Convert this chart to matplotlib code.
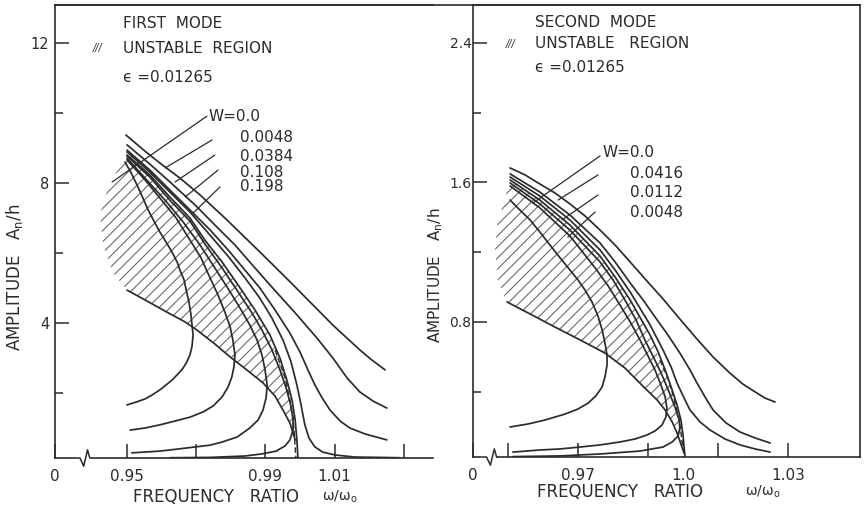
import matplotlib
matplotlib.use("Agg")
import matplotlib.pyplot as plt
from matplotlib.lines import Line2D

plt.rcParams['font.family'] = ['DejaVu Sans']
plt.rcParams['hatch.linewidth'] = 0.8

INK = '#2b2b2b'
HATCH = '#6a6a6a'

# ---------------- FIRST MODE (left panel) ----------------
m1_xlim = (0.92919, 1.03844)
m1_ylim = (0.143, 13.086)
m1_xticks = [0.92919, 0.95, 0.97, 0.99, 1.01, 1.03]
m1_xticklabels = ['0', '0.95', '', '0.99', '1.01', '']
m1_yticks = [4, 8, 12]
m1_yminor = [2, 6, 10]
m1_w_labels = ['W=0.0', '0.0048', '0.0384', '0.108', '0.198']

m1_r1_x = [0.9497, 0.9552, 0.9595, 0.9653, 0.9711, 0.9783, 0.9855, 0.9919, 0.9980, 1.0038, 1.0095, 1.0139, 1.0173, 1.0208, 1.0246]
m1_r1_y = [9.37, 8.91, 8.57, 8.14, 7.66, 7.00, 6.31, 5.69, 5.09, 4.51, 3.94, 3.54, 3.23, 2.94, 2.66]
m1_r2_x = [0.9500, 0.9566, 0.9624, 0.9697, 0.9754, 0.9812, 0.9855, 0.9913, 0.9986, 1.0049, 1.0095, 1.0136, 1.0173, 1.0211, 1.0251]
m1_r2_y = [9.09, 8.54, 8.03, 7.37, 6.80, 6.23, 5.74, 5.09, 4.29, 3.57, 3.00, 2.43, 2.03, 1.77, 1.57]
m1_r3_x = [0.9500, 0.9566, 0.9624, 0.9682, 0.9740, 0.9792, 0.9841, 0.9884, 0.9928, 0.9971, 1.0000, 1.0023, 1.0043, 1.0064, 1.0087, 1.0116, 1.0144, 1.0188, 1.0251]
m1_r3_y = [8.94, 8.37, 7.80, 7.23, 6.66, 6.09, 5.51, 5.00, 4.37, 3.71, 3.17, 2.66, 2.23, 1.86, 1.51, 1.20, 1.00, 0.83, 0.66]
m1_r4_x = [0.9500, 0.9566, 0.9624, 0.9682, 0.9740, 0.9792, 0.9841, 0.9884, 0.9919, 0.9951, 0.9974, 0.9991, 1.0003, 1.0014, 1.0026, 1.0043, 1.0066, 1.0101, 1.0159, 1.0231, 1.0289]
m1_r4_y = [8.89, 8.31, 7.74, 7.17, 6.51, 5.91, 5.29, 4.71, 4.14, 3.51, 2.89, 2.23, 1.66, 1.09, 0.71, 0.46, 0.31, 0.23, 0.17, 0.16, 0.15]
m1_b0_x = [0.9500, 0.9566, 0.9624, 0.9682, 0.9725, 0.9775, 0.9827, 0.9870, 0.9913, 0.9942, 0.9962, 0.9977, 0.9986, 0.9991, 0.9994]
m1_b0_y = [8.80, 8.23, 7.60, 7.00, 6.37, 5.74, 5.00, 4.37, 3.66, 3.00, 2.37, 1.80, 1.23, 0.66, 0.14]
m1_c4_x = [0.9500, 0.9566, 0.9624, 0.9682, 0.9725, 0.9775, 0.9827, 0.9861, 0.9890, 0.9919, 0.9942, 0.9960, 0.9971, 0.9980, 0.9980, 0.9971, 0.9957, 0.9931, 0.9890, 0.9841, 0.9740, 0.9624]
m1_c4_y = [8.77, 8.17, 7.51, 6.91, 6.26, 5.57, 4.80, 4.29, 3.80, 3.23, 2.66, 2.14, 1.74, 1.29, 0.94, 0.66, 0.49, 0.34, 0.26, 0.20, 0.16, 0.15]
m1_c3_x = [0.9500, 0.9552, 0.9610, 0.9662, 0.9711, 0.9754, 0.9798, 0.9830, 0.9855, 0.9876, 0.9890, 0.9899, 0.9905, 0.9902, 0.9893, 0.9879, 0.9855, 0.9818, 0.9775, 0.9740, 0.9673, 0.9595, 0.9514]
m1_c3_y = [8.71, 8.14, 7.51, 6.89, 6.23, 5.57, 4.89, 4.37, 3.94, 3.51, 3.09, 2.66, 2.23, 1.86, 1.51, 1.23, 1.00, 0.74, 0.60, 0.51, 0.43, 0.34, 0.29]
m1_c2_x = [0.9500, 0.9552, 0.9595, 0.9642, 0.9682, 0.9714, 0.9740, 0.9763, 0.9783, 0.9798, 0.9806, 0.9812, 0.9809, 0.9803, 0.9792, 0.9775, 0.9749, 0.9720, 0.9682, 0.9639, 0.9595, 0.9552, 0.9509]
m1_c2_y = [8.66, 8.09, 7.57, 7.00, 6.37, 5.86, 5.29, 4.80, 4.31, 3.89, 3.51, 3.09, 2.74, 2.46, 2.17, 1.89, 1.63, 1.46, 1.31, 1.20, 1.09, 1.00, 0.94]
m1_c1_x = [0.9494, 0.9512, 0.9529, 0.9546, 0.9561, 0.9578, 0.9595, 0.9613, 0.9630, 0.9645, 0.9653, 0.9665, 0.9671, 0.9679, 0.9685, 0.9688, 0.9691, 0.9688, 0.9682, 0.9673, 0.9662, 0.9647, 0.9630, 0.9613, 0.9595, 0.9572, 0.9552, 0.9526, 0.9500]
m1_c1_y = [8.60, 8.29, 7.94, 7.57, 7.23, 6.91, 6.60, 6.31, 6.03, 5.74, 5.51, 5.23, 4.94, 4.60, 4.23, 3.94, 3.66, 3.34, 3.09, 2.89, 2.71, 2.54, 2.37, 2.23, 2.09, 1.94, 1.83, 1.74, 1.66]
m1_bound_x = [0.9500, 0.9552, 0.9610, 0.9668, 0.9702, 0.9754, 0.9798, 0.9850, 0.9893, 0.9928, 0.9951, 0.9971, 0.9986]
m1_bound_y = [4.94, 4.66, 4.34, 4.03, 3.80, 3.40, 3.03, 2.63, 2.29, 1.91, 1.51, 1.14, 0.66]
m1_dash_x = [0.9928, 0.9957, 0.9974, 0.9983, 0.9988]
m1_dash_y = [3.23, 2.43, 1.66, 0.94, 0.14]
m1_region_x = [0.9500, 0.9460, 0.9431, 0.9422, 0.9436, 0.9460, 0.9500, 0.9566, 0.9624, 0.9682, 0.9725, 0.9775,
               0.9827, 0.9870, 0.9913, 0.9928, 0.9957, 0.9974, 0.9983, 0.9986, 0.9971, 0.9951, 0.9928,
               0.9893, 0.9850, 0.9798, 0.9754, 0.9702, 0.9668, 0.9610, 0.9552, 0.9500]
m1_region_y = [4.94, 5.43, 6.23, 7.09, 7.60, 8.14, 8.89, 8.23, 7.60, 7.00, 6.37, 5.74,
               5.00, 4.37, 3.66, 3.23, 2.43, 1.66, 0.94, 0.66, 1.14, 1.51, 1.91,
               2.29, 2.63, 3.03, 3.40, 3.80, 4.03, 4.34, 4.66, 4.94]
m1_lead_from_x = [0.9731, 0.9746, 0.9754, 0.9763, 0.9769]
m1_lead_from_y = [9.91, 9.23, 8.80, 8.37, 7.89]
m1_lead_to_x = [0.9457, 0.9610, 0.9639, 0.9668, 0.9691]
m1_lead_to_y = [8.03, 8.43, 8.03, 7.60, 7.14]
m1_label_x = [0.9736, 0.9827, 0.9827, 0.9827, 0.9827]
m1_label_y = [9.89, 9.31, 8.77, 8.31, 7.89]

# ---------------- SECOND MODE (right panel) ----------------
m2_xlim = (0.94, 1.05057)
m2_ylim = (0.0258, 2.6175)
m2_xticks = [0.94, 0.95, 0.97, 0.99, 1.01, 1.03]
m2_xticklabels = ['0', '', '0.97', '', '', '1.03']
m2_yticks = [0.8, 1.6, 2.4]
m2_yminor = [0.4, 1.2, 2.0]
m2_w_labels = ['W=0.0', '0.0416', '0.0112', '0.0048']

m2_q1_x = [0.9506, 0.9549, 0.9591, 0.9634, 0.9677, 0.9720, 0.9763, 0.9806, 0.9849, 0.9897, 0.9943, 0.9991, 1.0040, 1.0086, 1.0134, 1.0171, 1.0206, 1.0234, 1.0263]
m2_q1_y = [1.683, 1.643, 1.591, 1.540, 1.477, 1.408, 1.327, 1.241, 1.144, 1.035, 0.932, 0.817, 0.702, 0.599, 0.507, 0.444, 0.399, 0.364, 0.341]
m2_q2_x = [0.9506, 0.9591, 0.9677, 0.9763, 0.9806, 0.9849, 0.9886, 0.9920, 0.9957, 0.9991, 1.0020, 1.0040, 1.0063, 1.0086, 1.0123, 1.0163, 1.0206, 1.0249]
m2_q2_y = [1.649, 1.545, 1.413, 1.253, 1.144, 1.024, 0.926, 0.829, 0.725, 0.622, 0.525, 0.450, 0.370, 0.295, 0.221, 0.169, 0.135, 0.106]
m2_q3_x = [0.9506, 0.9591, 0.9677, 0.9763, 0.9806, 0.9849, 0.9906, 0.9943, 0.9966, 0.9983, 1.0003, 1.0020, 1.0049, 1.0077, 1.0120, 1.0163, 1.0206, 1.0249]
m2_q3_y = [1.631, 1.522, 1.385, 1.213, 1.098, 0.972, 0.783, 0.639, 0.542, 0.450, 0.364, 0.295, 0.226, 0.181, 0.129, 0.095, 0.072, 0.054]
m2_p0_x = [0.9506, 0.9591, 0.9677, 0.9763, 0.9806, 0.9849, 0.9906, 0.9929, 0.9949, 0.9969, 0.9983, 0.9994, 1.0000, 1.0003, 1.0006]
m2_p0_y = [1.614, 1.499, 1.356, 1.178, 1.058, 0.926, 0.725, 0.628, 0.525, 0.410, 0.324, 0.238, 0.152, 0.083, 0.026]
m2_s3_x = [0.9506, 0.9591, 0.9677, 0.9763, 0.9800, 0.9834, 0.9866, 0.9891, 0.9917, 0.9940, 0.9960, 0.9977, 0.9989, 0.9991, 0.9986, 0.9969, 0.9943, 0.9877, 0.9763, 0.9649, 0.9514]
m2_s3_y = [1.597, 1.477, 1.327, 1.144, 1.041, 0.926, 0.811, 0.697, 0.593, 0.496, 0.399, 0.312, 0.238, 0.192, 0.146, 0.112, 0.083, 0.060, 0.043, 0.032, 0.028]
m2_s2_x = [0.9506, 0.9591, 0.9677, 0.9749, 0.9786, 0.9820, 0.9851, 0.9877, 0.9900, 0.9920, 0.9937, 0.9949, 0.9954, 0.9951, 0.9940, 0.9920, 0.9897, 0.9863, 0.9820, 0.9763, 0.9706, 0.9649, 0.9591, 0.9514]
m2_s2_y = [1.580, 1.454, 1.293, 1.110, 1.007, 0.897, 0.794, 0.697, 0.605, 0.525, 0.439, 0.370, 0.307, 0.255, 0.209, 0.175, 0.152, 0.129, 0.112, 0.095, 0.083, 0.072, 0.066, 0.054]
m2_s1_x = [0.9506, 0.9534, 0.9563, 0.9591, 0.9620, 0.9649, 0.9677, 0.9700, 0.9720, 0.9740, 0.9757, 0.9769, 0.9777, 0.9783, 0.9783, 0.9777, 0.9769, 0.9751, 0.9729, 0.9700, 0.9663, 0.9606, 0.9557, 0.9506]
m2_s1_y = [1.499, 1.442, 1.385, 1.316, 1.241, 1.167, 1.098, 1.041, 0.983, 0.915, 0.834, 0.754, 0.679, 0.611, 0.553, 0.485, 0.427, 0.376, 0.335, 0.301, 0.272, 0.238, 0.215, 0.198]
m2_bound_x = [0.9497, 0.9563, 0.9634, 0.9706, 0.9777, 0.9834, 0.9891, 0.9926, 0.9949, 0.9969, 0.9983, 1.0000]
m2_bound_y = [0.915, 0.846, 0.771, 0.697, 0.622, 0.536, 0.421, 0.353, 0.295, 0.227, 0.163, 0.066]
m2_dash_x = [0.9934, 0.9957, 0.9974, 0.9989, 0.9997, 1.0003]
m2_dash_y = [0.582, 0.479, 0.364, 0.238, 0.123, 0.026]
m2_region_x = [0.9497, 0.9471, 0.9463, 0.9469, 0.9486, 0.9506, 0.9591, 0.9677, 0.9763, 0.9806, 0.9849, 0.9906,
               0.9934, 0.9957, 0.9974, 0.9989, 0.9997, 1.0000, 0.9983, 0.9969, 0.9949, 0.9926, 0.9891,
               0.9834, 0.9777, 0.9706, 0.9634, 0.9563, 0.9497]
m2_region_y = [0.915, 1.041, 1.213, 1.356, 1.471, 1.614, 1.499, 1.356, 1.178, 1.058, 0.926, 0.725,
               0.582, 0.479, 0.364, 0.238, 0.123, 0.066, 0.163, 0.227, 0.295, 0.353, 0.421,
               0.536, 0.622, 0.697, 0.771, 0.846, 0.915]
m2_lead_from_x = [0.9763, 0.9757, 0.9757, 0.9749]
m2_lead_from_y = [1.752, 1.643, 1.528, 1.431]
m2_lead_to_x = [0.9571, 0.9643, 0.9654, 0.9671]
m2_lead_to_y = [1.482, 1.499, 1.385, 1.287]
m2_label_x = [0.9769, 0.9849, 0.9849, 0.9849]
m2_label_y = [1.769, 1.654, 1.540, 1.425]

FS = 11

fig = plt.figure(figsize=(8.64, 5.13), dpi=100)
ax1 = fig.add_axes([55 / 864, 1 - 458 / 513, (433 - 55) / 864, 453 / 513])
ax2 = fig.add_axes([473 / 864, 1 - 457 / 513, 387 / 864, 452 / 513])


def style_axes(ax, xlim, ylim, xticks, xlabels, yticks, yminor, right_spine):
    ax.set_xlim(*xlim)
    ax.set_ylim(*ylim)
    for s in ax.spines.values():
        s.set_linewidth(1.2)
        s.set_color(INK)
    ax.spines['right'].set_visible(right_spine)
    ax.set_xticks(xticks)
    ax.set_xticklabels(xlabels)
    ax.set_yticks(yticks)
    ax.set_yticks(yminor, minor=True)
    ax.tick_params(axis='x', which='major', direction='in', length=10, width=1.1,
                   color=INK, labelsize=FS, pad=8, labelcolor=INK)
    ax.tick_params(axis='y', which='major', direction='in', length=10, width=1.1,
                   color=INK, labelsize=FS - 0.5, pad=4, labelcolor=INK)
    ax.tick_params(axis='y', which='minor', direction='in', length=6, width=1.1, color=INK)
    ax.tick_params(top=False, right=False)


style_axes(ax1, m1_xlim, m1_ylim, m1_xticks, m1_xticklabels, m1_yticks, m1_yminor, False)
style_axes(ax2, m2_xlim, m2_ylim, m2_xticks, m2_xticklabels, m2_yticks, m2_yminor, True)
ax2.tick_params(axis='y', which='major', pad=1, labelsize=FS - 1)
ax2.set_xticks([1.0], minor=True)
ax2.set_xticklabels(['1.0'], minor=True)
ax2.tick_params(axis='x', which='minor', length=0, labelsize=FS, pad=8, labelcolor=INK)

lw = 1.25
for xs, ys in [(m1_r1_x, m1_r1_y), (m1_r2_x, m1_r2_y), (m1_r3_x, m1_r3_y), (m1_r4_x, m1_r4_y),
               (m1_b0_x, m1_b0_y), (m1_c4_x, m1_c4_y), (m1_c3_x, m1_c3_y), (m1_c2_x, m1_c2_y),
               (m1_c1_x, m1_c1_y), (m1_bound_x, m1_bound_y)]:
    ax1.plot(xs, ys, color=INK, lw=lw, solid_capstyle='round', solid_joinstyle='round')
ax1.plot(m1_dash_x, m1_dash_y, color=INK, lw=1.0, ls=(0, (4, 2)))
ax1.fill(m1_region_x, m1_region_y, facecolor='none', edgecolor=HATCH, hatch='///', lw=0)

for xs, ys in [(m2_q1_x, m2_q1_y), (m2_q2_x, m2_q2_y), (m2_q3_x, m2_q3_y), (m2_p0_x, m2_p0_y),
               (m2_s3_x, m2_s3_y), (m2_s2_x, m2_s2_y), (m2_s1_x, m2_s1_y), (m2_bound_x, m2_bound_y)]:
    ax2.plot(xs, ys, color=INK, lw=lw, solid_capstyle='round', solid_joinstyle='round')
ax2.plot(m2_dash_x, m2_dash_y, color=INK, lw=1.0, ls=(0, (4, 2)))
ax2.fill(m2_region_x, m2_region_y, facecolor='none', edgecolor=HATCH, hatch='///', lw=0)

for ax, fx, fy, tx, ty, lx, ly, labs in [
        (ax1, m1_lead_from_x, m1_lead_from_y, m1_lead_to_x, m1_lead_to_y, m1_label_x, m1_label_y, m1_w_labels),
        (ax2, m2_lead_from_x, m2_lead_from_y, m2_lead_to_x, m2_lead_to_y, m2_label_x, m2_label_y, m2_w_labels)]:
    for i in range(len(labs)):
        ax.annotate('', xy=(tx[i], ty[i]), xytext=(fx[i], fy[i]),
                    arrowprops=dict(arrowstyle='-', color=INK, lw=0.9, shrinkA=0, shrinkB=0))
        ax.text(lx[i], ly[i], labs[i], fontsize=FS, color=INK, ha='left', va='center')

ax1.text(0.181, 0.960, 'FIRST  MODE', transform=ax1.transAxes, fontsize=FS, color=INK, va='center')
ax1.text(0.181, 0.905, 'UNSTABLE  REGION', transform=ax1.transAxes, fontsize=FS, color=INK, va='center')
ax1.text(0.181, 0.841, '\u03f5 =0.01265', transform=ax1.transAxes, fontsize=FS, color=INK, va='center')
ax1.text(0.112, 0.905, '///', transform=ax1.transAxes, fontsize=7, color=INK, va='center', ha='center',
         style='italic')
ax2.text(0.160, 0.962, 'SECOND  MODE', transform=ax2.transAxes, fontsize=FS, color=INK, va='center')
ax2.text(0.160, 0.914, 'UNSTABLE   REGION', transform=ax2.transAxes, fontsize=FS, color=INK, va='center')
ax2.text(0.160, 0.861, '\u03f5 =0.01265', transform=ax2.transAxes, fontsize=FS, color=INK, va='center')
ax2.text(0.096, 0.914, '///', transform=ax2.transAxes, fontsize=7, color=INK, va='center', ha='center',
         style='italic')

fig.text(15 / 864, 1 - 277 / 513, 'AMPLITUDE   A$_\\mathregular{n}$/h', rotation=90,
         ha='center', va='center', fontsize=FS + 1, color=INK)
fig.text(436 / 864, 1 - 275 / 513, 'AMPLITUDE   A$_\\mathregular{n}$/h', rotation=90,
         ha='center', va='center', fontsize=FS, color=INK)
fig.text(133 / 864, 1 - 497 / 513, 'FREQUENCY   RATIO', ha='left', va='center', fontsize=FS + 1, color=INK)
fig.text(322 / 864, 1 - 497 / 513, '\u03c9/\u03c9$_\\mathregular{o}$', ha='left', va='center',
         fontsize=FS - 1, color=INK)
fig.text(537 / 864, 1 - 492 / 513, 'FREQUENCY   RATIO', ha='left', va='center', fontsize=FS + 1, color=INK)
fig.text(745 / 864, 1 - 492 / 513, '\u03c9/\u03c9$_\\mathregular{o}$', ha='left', va='center',
         fontsize=FS - 1, color=INK)

fig.add_artist(Line2D([55 / 864, 860 / 864], [1 - 5 / 513, 1 - 5 / 513], color=INK, lw=1.2))

for ax, xb in [(ax1, 0.072), (ax2, 0.041)]:
    ax.plot([xb - 0.014, xb + 0.014], [0, 0], transform=ax.transAxes, color='white', lw=2.5,
            clip_on=False, zorder=5)
    ax.plot([xb - 0.016, xb - 0.006, xb + 0.004, xb + 0.014, xb + 0.02],
            [0, 0.0, -0.018, 0.018, 0.0], transform=ax.transAxes, color=INK, lw=1.1,
            clip_on=False, zorder=6)

fig.savefig('out.png', dpi=100, facecolor='white')
